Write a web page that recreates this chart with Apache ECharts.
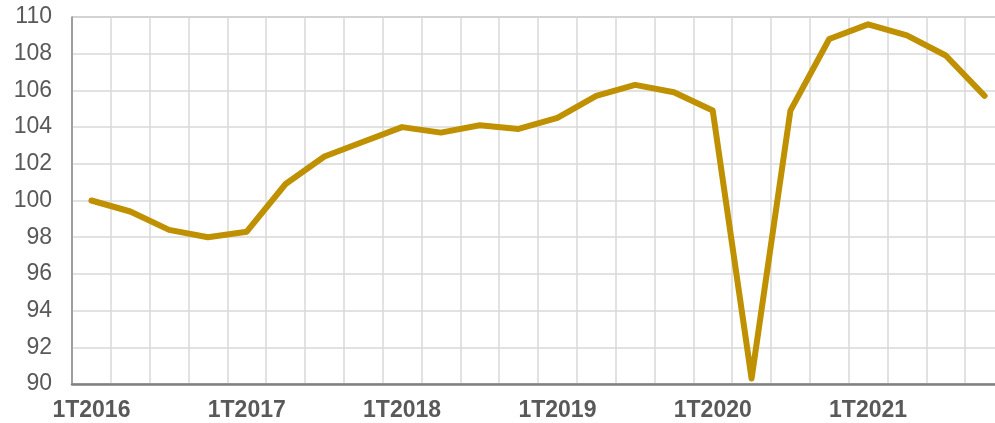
<!DOCTYPE html>
<html>
<head>
<meta charset="utf-8">
<script src="https://cdn.jsdelivr.net/npm/echarts@6/dist/echarts.min.js"></script>
<style>
  html, body { margin: 0; padding: 0; background: #fff; overflow: hidden; }
  #chart { width: 1004px; height: 423px; }
</style>
</head>
<body>
<div id="chart"></div>
<script>
// trimestres 2016-2021
const quarters = [
  '1T2016', '2T2016', '3T2016', '4T2016',
  '1T2017', '2T2017', '3T2017', '4T2017',
  '1T2018', '2T2018', '3T2018', '4T2018',
  '1T2019', '2T2019', '3T2019', '4T2019',
  '1T2020', '2T2020', '3T2020', '4T2020',
  '1T2021', '2T2021', '3T2021', '4T2021'
]
// indice (1T2016 = 100)
const indexValues = [
  100.0, 99.4, 98.4, 98.0,
  98.3, 100.9, 102.4, 103.2,
  104.0, 103.7, 104.1, 103.9,
  104.5, 105.7, 106.3, 105.9,
  104.9, 90.3, 104.9, 108.8,
  109.6, 109.0, 107.9, 105.7
]
const yMin = 90
const yMax = 110
const yStep = 2

const myChart = echarts.init(document.getElementById('chart'))

myChart.setOption({
  animation: false,
  grid: {
    left: 72, right: 0, top: 17, bottom: 39,
    show: true,
    borderColor: '#8c8c8c',
    borderWidth: 1
  },
  xAxis: {
    type: 'category',
    data: quarters,
    boundaryGap: true,
    axisLine: { lineStyle: { color: '#808080', width: 2.5 } },
    axisTick: { show: false },
    axisLabel: {
      interval: 3,
      margin: 15,
      color: '#595959',
      fontFamily: 'Liberation Sans, Arial, sans-serif',
      fontSize: 23,
      fontWeight: 'bold'
    },
    splitLine: { show: true, interval: 0, lineStyle: { color: '#d9d9d9', width: 1.5 } }
  },
  yAxis: {
    type: 'value',
    min: yMin,
    max: yMax,
    interval: yStep,
    axisLine: { show: true, lineStyle: { color: '#8c8c8c', width: 1.5 } },
    axisTick: { show: false },
    axisLabel: {
      margin: 20,
      color: '#595959',
      fontFamily: 'Liberation Sans, Arial, sans-serif',
      fontSize: 23
    },
    splitLine: { lineStyle: { color: '#d9d9d9', width: 1.5 } }
  },
  series: [
    {
      type: 'line',
      data: indexValues,
      symbol: 'none',
      lineStyle: { color: '#BF9000', width: 6, join: 'round', cap: 'round' },
      itemStyle: { color: '#BF9000' }
    }
  ]
})
</script>
</body>
</html>
